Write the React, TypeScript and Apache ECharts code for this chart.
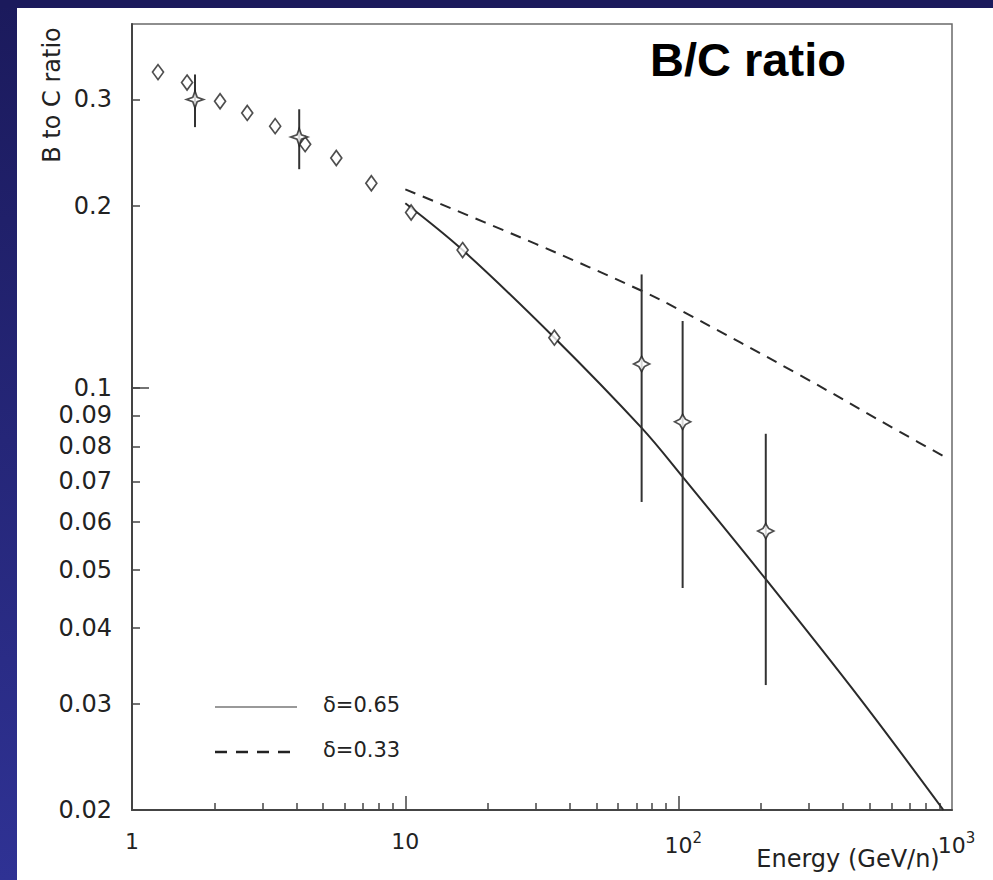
import React, { useEffect, useRef } from 'react';
import * as echarts from 'echarts';

// ---- data (energy in GeV/n, B/C ratio) ----
const diamondEnergy = [1.245, 1.59, 2.1, 2.64, 3.34, 4.3, 5.59, 7.51, 10.5, 16.2, 35.1];
const diamondRatio = [0.333, 0.32, 0.298, 0.285, 0.271, 0.253, 0.24, 0.218, 0.195, 0.169, 0.121];

const crossEnergy = [1.7, 4.09, 73.2, 103.4, 208.3];
const crossRatio = [0.3, 0.26, 0.1095, 0.0878, 0.0579];
const crossLow = [0.27, 0.23, 0.0647, 0.0466, 0.0322];
const crossHigh = [0.33, 0.289, 0.154, 0.129, 0.0839];

const fit065Energy = [10.0, 16.2, 35.1, 73.2, 103.4, 208.3, 460, 930];
const fit065Ratio = [0.202, 0.169, 0.121, 0.0858, 0.0712, 0.0482, 0.0306, 0.02];

const fit033Energy = [10.0, 30, 73.2, 100.9, 277, 645, 943];
const fit033Ratio = [0.213, 0.173, 0.1447, 0.1345, 0.105, 0.0845, 0.0768];

const yTickValues = [0.02, 0.03, 0.04, 0.05, 0.06, 0.07, 0.08, 0.09, 0.1, 0.2, 0.3];
const yTickLabels = ['0.02', '0.03', '0.04', '0.05', '0.06', '0.07', '0.08', '0.09', '0.1', '0.2', '0.3'];
const yMajorTicks = [0.1];
const yMin = 0.02;
const yMax = 0.4;

const xTickValues = [1, 10, 100, 1000];
const xTickLabels = ['1', '10', '{p|}{b|10}{s|2}', '{p|}{b|10}{s|3}'];
const xMajorTicks = [10, 100];
const xMinorTicks = [2, 3, 4, 5, 6, 7, 8, 9, 20, 30, 40, 50, 60, 70, 80, 90, 200, 300, 400, 500, 600, 700, 800, 900];
const xMin = 1;
const xMax = 1000;

const legendLabels = ['δ=0.65', 'δ=0.33'];
const titleText = 'B/C ratio';
const xName = 'Energy (GeV/n)';
const yName = 'B to C ratio';

const lg = Math.log10;
const FONT = '"DejaVu Sans", Verdana, sans-serif';

function nearestLabel(v: number, values: number[], labels: string[]) {
  let best = 0;
  for (let i = 1; i < values.length; i++) {
    if (Math.abs(lg(values[i]) - v) < Math.abs(lg(values[best]) - v)) best = i;
  }
  return labels[best];
}

const starThin = 'path://M10,0 L12.6,7.4 L20,10 L12.6,12.6 L10,20 L7.4,12.6 L0,10 L7.4,7.4 Z';
const starBroad = 'path://M10,0 L13.5,6.5 L20,10 L13.5,13.5 L10,20 L6.5,13.5 L0,10 L6.5,6.5 Z';

export default function App() {
  const ref = useRef<HTMLDivElement>(null);

  useEffect(() => {
    if (!ref.current) return;
    const chart = echarts.init(ref.current, undefined, { renderer: 'svg' });

    const option: any = {
      animation: false,
      backgroundColor: '#ffffff',
      grid: {
        left: 132,
        right: 41,
        top: 24,
        bottom: 70,
        show: true,
        borderColor: '#6a6a6a',
        borderWidth: 1.5,
        backgroundColor: 'transparent',
      },
      xAxis: [
        {
          type: 'value',
          min: lg(xMin),
          max: lg(xMax),
          position: 'bottom',
          axisLine: { show: true, lineStyle: { color: '#444', width: 2 } },
          axisTick: {
            show: true,
            inside: true,
            length: 14,
            customValues: xMajorTicks.map(lg),
            lineStyle: { color: '#444', width: 1.5 },
          },
          axisLabel: {
            show: true,
            customValues: xTickValues.map(lg),
            formatter: (v: number) => nearestLabel(v, xTickValues, xTickLabels),
            margin: 20,
            color: '#222',
            fontSize: 22,
            fontFamily: FONT,
            rich: {
              p: { width: 9, lineHeight: 30 },
              b: { fontSize: 22, fontFamily: FONT, color: '#222', lineHeight: 30 },
              s: { fontSize: 15, fontFamily: FONT, color: '#222', lineHeight: 14, verticalAlign: 'top' },
            },
          },
          splitLine: { show: false },
        },
        {
          type: 'value',
          min: lg(xMin),
          max: lg(xMax),
          position: 'bottom',
          axisLine: { show: false },
          axisTick: {
            show: true,
            inside: true,
            length: 7,
            customValues: xMinorTicks.map(lg),
            lineStyle: { color: '#444', width: 1.5 },
          },
          axisLabel: { show: false },
          splitLine: { show: false },
        },
      ],
      yAxis: [
        {
          type: 'value',
          min: lg(yMin),
          max: lg(yMax),
          position: 'left',
          axisLine: { show: true, lineStyle: { color: '#444', width: 2 } },
          axisTick: {
            show: true,
            inside: true,
            length: 8,
            customValues: yTickValues.map(lg),
            lineStyle: { color: '#444', width: 1.5 },
          },
          axisLabel: {
            show: true,
            customValues: yTickValues.map(lg),
            formatter: (v: number) => nearestLabel(v, yTickValues, yTickLabels),
            margin: 20,
            color: '#222',
            fontSize: 24,
            fontFamily: FONT,
          },
          splitLine: { show: false },
        },
        {
          type: 'value',
          min: lg(yMin),
          max: lg(yMax),
          position: 'left',
          axisLine: { show: false },
          axisTick: {
            show: true,
            inside: true,
            length: 17,
            customValues: yMajorTicks.map(lg),
            lineStyle: { color: '#444', width: 1.5 },
          },
          axisLabel: { show: false },
          splitLine: { show: false },
        },
      ],
      series: [
        {
          name: legendLabels[0],
          type: 'line',
          smooth: 0.35,
          showSymbol: false,
          symbol: 'none',
          data: fit065Energy.map((e, i) => [lg(e), lg(fit065Ratio[i])]),
          lineStyle: { color: '#2a2a2a', width: 2 },
          z: 2,
        },
        {
          name: legendLabels[1],
          type: 'line',
          smooth: 0.35,
          showSymbol: false,
          symbol: 'none',
          data: fit033Energy.map((e, i) => [lg(e), lg(fit033Ratio[i])]),
          lineStyle: { color: '#2a2a2a', width: 2, type: [11, 8] },
          z: 2,
        },
        {
          type: 'custom',
          renderItem: (params: any, api: any) => {
            const x = api.value(0);
            const p1 = api.coord([x, api.value(1)]);
            const p2 = api.coord([x, api.value(2)]);
            return {
              type: 'line',
              shape: { x1: p1[0], y1: p1[1], x2: p2[0], y2: p2[1] },
              style: { stroke: '#333', lineWidth: 2 },
            };
          },
          data: crossEnergy.map((e, i) => [lg(e), lg(crossLow[i]), lg(crossHigh[i])]),
          encode: { x: 0, y: [1, 2] },
          z: 3,
        },
        {
          type: 'scatter',
          data: diamondEnergy.map((e, i) => [lg(e), lg(diamondRatio[i])]),
          symbol: 'diamond',
          symbolSize: [11, 15],
          itemStyle: { color: '#ffffff', borderColor: '#222', borderWidth: 1.7 },
          z: 4,
        },
        {
          type: 'scatter',
          data: crossEnergy.map((e, i) => ({
            value: [lg(e), lg(crossRatio[i])],
            symbol: i < 2 ? starThin : starBroad,
            symbolSize: i < 2 ? [17, 17] : [16, 15],
          })),
          itemStyle: { color: '#ffffff', borderColor: '#222', borderWidth: 1.7 },
          z: 5,
        },
      ],
      graphic: [
        {
          type: 'rect',
          silent: true,
          shape: { x: 0, y: 0, width: 17, height: 880 },
          style: {
            fill: new echarts.graphic.LinearGradient(0, 0, 0, 1, [
              { offset: 0, color: '#1b1a5c' },
              { offset: 1, color: '#2f3294' },
            ]),
          },
        },
        {
          type: 'rect',
          silent: true,
          shape: { x: 0, y: 0, width: 993, height: 8 },
          style: { fill: '#1b1a5c' },
        },
        {
          type: 'text',
          x: 748,
          y: 59,
          style: {
            text: titleText,
            font: 'bold 47px "Liberation Sans", Arial, sans-serif',
            fill: '#000',
            align: 'center',
            verticalAlign: 'middle',
          },
        },
        {
          type: 'text',
          x: 52,
          y: 95,
          rotation: Math.PI / 2,
          style: {
            text: yName,
            font: '24px ' + FONT,
            fill: '#222',
            align: 'center',
            verticalAlign: 'middle',
          },
        },
        {
          type: 'text',
          x: 848,
          y: 859,
          style: {
            text: xName,
            font: '24px ' + FONT,
            fill: '#222',
            align: 'center',
            verticalAlign: 'middle',
          },
        },
        {
          type: 'line',
          shape: { x1: 215, y1: 707, x2: 297, y2: 707 },
          style: { stroke: '#999', lineWidth: 2 },
        },
        {
          type: 'text',
          x: 323,
          y: 705,
          style: {
            text: legendLabels[0],
            font: '21px ' + FONT,
            fill: '#222',
            align: 'left',
            verticalAlign: 'middle',
          },
        },
        {
          type: 'line',
          shape: { x1: 215, y1: 752, x2: 290, y2: 752 },
          style: { stroke: '#222', lineWidth: 2.5, lineDash: [12, 9] },
        },
        {
          type: 'text',
          x: 323,
          y: 750,
          style: {
            text: legendLabels[1],
            font: '21px ' + FONT,
            fill: '#222',
            align: 'left',
            verticalAlign: 'middle',
          },
        },
      ],
    };

    chart.setOption(option);
    return () => chart.dispose();
  }, []);

  return (
    <div
      ref={ref}
      style={{ position: 'fixed', left: 0, top: 0, width: 993, height: 880 }}
    />
  );
}
